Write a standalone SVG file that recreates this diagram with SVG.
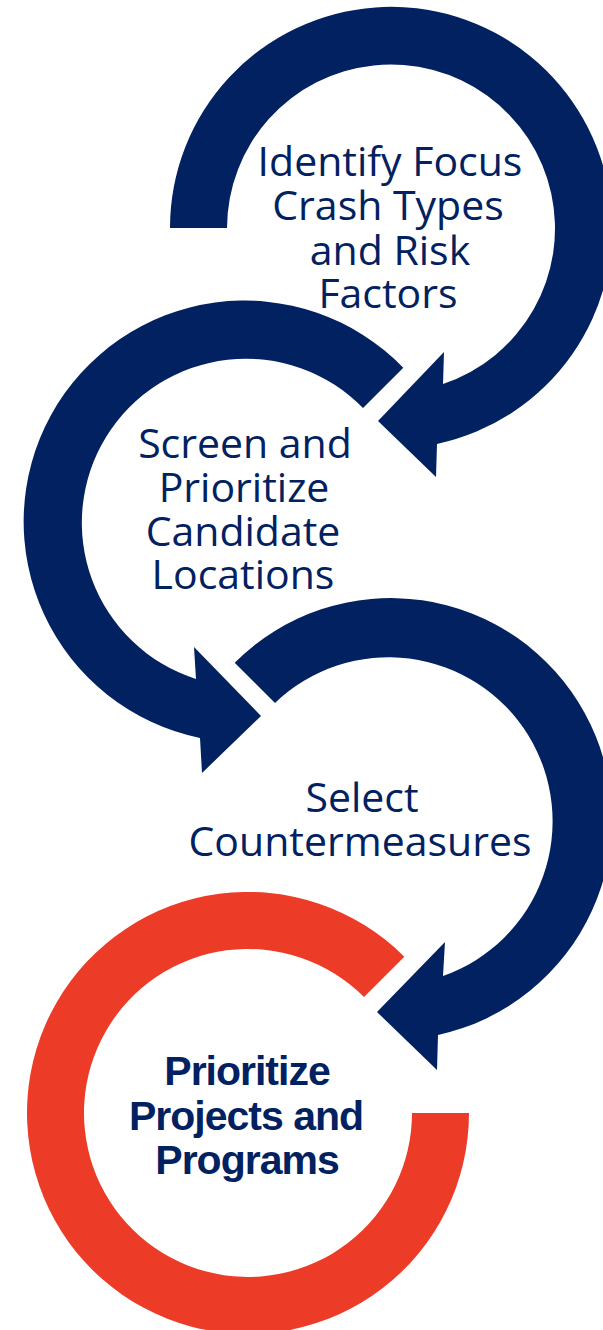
<svg xmlns="http://www.w3.org/2000/svg" width="603" height="1330" viewBox="0 0 603 1330">
<style>
.navy{fill:#022160}
.red{fill:#EC3B27}
.t{font-family:"Open Sans","Noto Sans","DejaVu Sans",sans-serif;font-size:41px;fill:#022160;text-anchor:middle}
.tb{font-family:"Liberation Sans",Arial,sans-serif;font-size:41px;font-weight:bold;fill:#022160;text-anchor:middle;letter-spacing:-1px}
</style>
<rect width="603" height="1330" fill="#ffffff"/>
<g id="step1">
<path class="navy" d="M170,228 A221,221 0 1 1 437,444 L436,477 L378,421 L444,352 L443,384 A164,164 0 1 0 227,228 Z"/>
<text class="t"><tspan x="390" y="176">Identify Focus</tspan><tspan x="388" y="220">Crash Types</tspan><tspan x="390" y="265">and Risk</tspan><tspan x="388" y="308">Factors</tspan></text>
</g>
<g id="step2">
<path class="navy" d="M403.3,367.7 A221,221 0 1 0 200,738 L202,773 L261,716 L194,647 L196,679 A164,164 0 1 1 363,408 Z"/>
<text class="t"><tspan x="245" y="458">Screen and</tspan><tspan x="244" y="502">Prioritize</tspan><tspan x="243" y="546">Candidate</tspan><tspan x="243" y="589">Locations</tspan></text>
</g>
<g id="step3">
<path class="navy" d="M234.7,662.7 A221,221 0 1 1 438,1035 L437,1070 L377,1012 L445,942 L443,976 A164,164 0 1 0 275,703 Z"/>
<text class="t"><tspan x="362" y="812">Select</tspan><tspan x="360" y="856">Countermeasures</tspan></text>
</g>
<g id="step4">
<path class="red" d="M469,1113 A221,221 0 1 1 404.3,956.7 L364,997 A164,164 0 1 0 412,1113 Z"/>
<text class="tb"><tspan x="247" y="1085">Prioritize</tspan><tspan x="246" y="1130">Projects and</tspan><tspan x="247" y="1174">Programs</tspan></text>
</g>
<g id="connectors"></g>
</svg>
